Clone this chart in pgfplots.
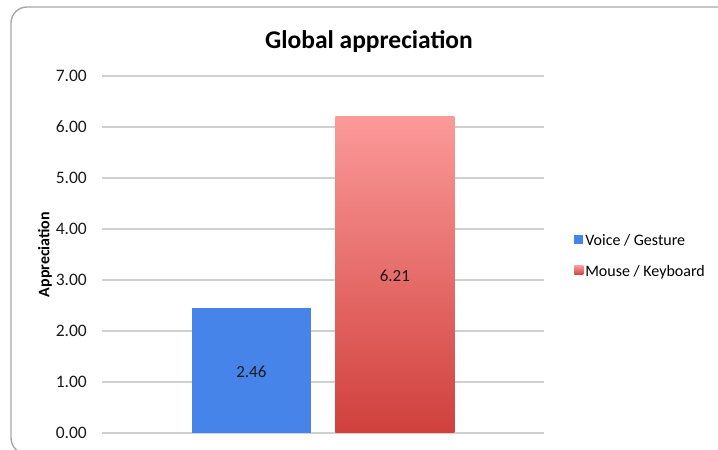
\documentclass[border=0pt]{standalone}
\usepackage{fontspec}
\setmainfont{Carlito}
\usepackage{pgfplots}
\pgfplotsset{compat=1.18}

\definecolor{gridgray}{HTML}{D0D0D0}
\definecolor{framegray}{HTML}{A8A8A8}
\definecolor{ticktext}{HTML}{1A1A1A}
\definecolor{vgblue}{HTML}{4684EA}
\definecolor{mkTop}{HTML}{FB9A99}
\definecolor{mkBot}{HTML}{D0403C}

\begin{document}
\begin{tikzpicture}[x=1pt,y=1pt]
\useasboundingbox (0,0) rectangle (718,450);
% rounded outer frame of the chart
\begin{scope}
  \clip (0,0) rectangle (718,450);
  \draw[framegray, line width=1.4pt, rounded corners=16pt]
    (760,443) -- (11,443) -- (11,-4) -- (760,-4);
\end{scope}
\begin{axis}[
  at={(102pt,17pt)}, anchor=south west,
  scale only axis, width=442pt, height=357pt,
  xmin=-1, xmax=1, ymin=0, ymax=7,
  ybar, bar width=119pt,
  xtick=\empty,
  ytick={0,1,2,3,4,5,6,7},
  ymajorgrids,
  grid style={gridgray, line width=1.4pt},
  axis line style={draw=none},
  major tick length=0pt,
  clip=false,
  /pgf/number format/.cd, fixed, fixed zerofill, precision=2, assume math mode=true,
  /pgfplots/.cd,
  yticklabel style={font=\fontsize{17.5}{20}\selectfont, text=ticktext, anchor=east, inner sep=0pt, xshift=-15pt},
  title={Global appreciation},
  title style={font=\bfseries\fontsize{25.5}{30}\selectfont, at={(axis description cs:0.604,1.061)}, anchor=base},
  ylabel={Appreciation},
  every axis y label/.style={at={(axis description cs:-0.129,0.5)}, rotate=90, anchor=center, font=\bfseries\fontsize{16}{19}\selectfont},
  legend style={draw=none, fill=none, at={(axis description cs:1.068,0.496)}, anchor=west,
    font=\fontsize{16}{19}\selectfont, inner sep=0pt, row sep=14pt,
    nodes={inner sep=2pt}},
  legend cell align=left,
  legend image code/.code={\path[#1, draw=none] (0pt,-3.5pt) rectangle (9pt,5.5pt);},
  nodes near coords,
  visualization depends on={rawy \as \rawy},
  every node near coord/.append style={anchor=center, text=ticktext,
    font=\fontsize{17}{20}\selectfont, yshift={-25.5pt*\rawy-1.5pt}},
]
\addplot[ybar, bar shift=-71.6pt, draw=none, fill=vgblue]
  coordinates {(0,2.46)};
\addlegendentry{Voice / Gesture}
\addplot[ybar, bar shift=71.9pt, draw=none, top color=mkTop, bottom color=mkBot]
  coordinates {(0,6.21)};
\addlegendentry{Mouse / Keyboard}
\end{axis}
\end{tikzpicture}
\end{document}
